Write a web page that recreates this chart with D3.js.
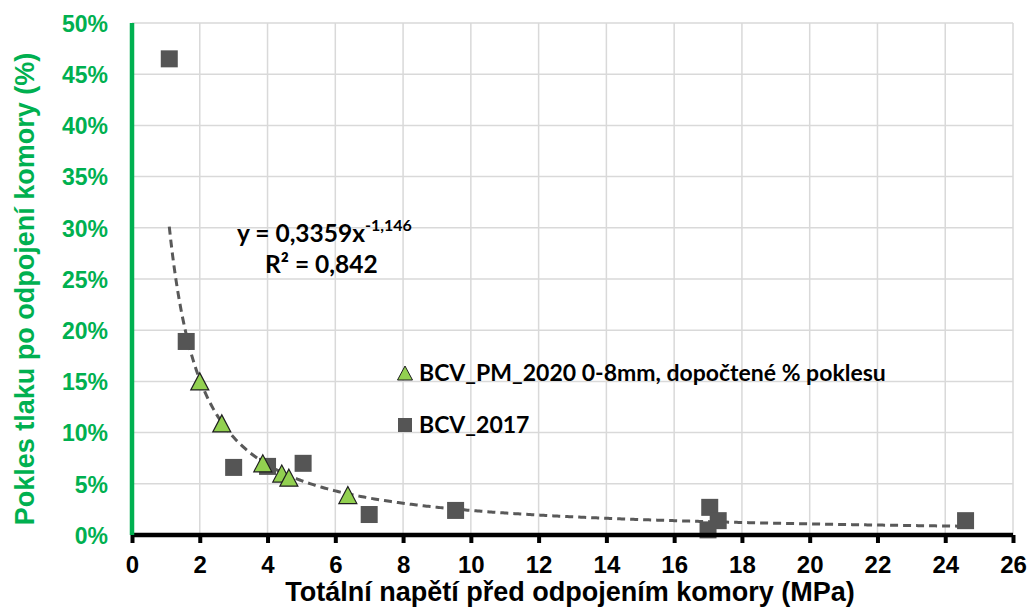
<!DOCTYPE html>
<html><head><meta charset="utf-8">
<script src="https://cdn.jsdelivr.net/npm/d3@7"></script>
<style>html,body{margin:0;padding:0;background:#fff;}svg{display:block;}</style>
</head><body>
<svg id="c" width="1032" height="615"></svg>
<script>
// ---- data ----
const xTicks = [0,2,4,6,8,10,12,14,16,18,20,22,24,26];
const yTicks = [0,5,10,15,20,25,30,35,40,45,50];
const bcv2017X = [1.1, 1.6, 3.0, 4.0, 5.05, 7.0, 9.55, 17.05, 17.3, 17.0, 24.6];
const bcv2017Y = [46.5, 18.9, 6.6, 6.7, 7.0, 2.0, 2.4, 2.7, 1.4, 0.5, 1.4];
const pm2020X = [2.0, 2.65, 3.86, 4.42, 4.63, 6.37];
const pm2020Y = [15.0, 10.9, 7.0, 6.0, 5.6, 3.9];
const trendA = 0.3359, trendB = -1.146, trendR2 = "0,842";
const trendRange = [1.1, 24.6];
const seriesNames = ["BCV_PM_2020 0-8mm, dopočtené % poklesu", "BCV_2017"];
const xTitle = "Totální napětí před odpojením komory (MPa)";
const yTitle = "Pokles tlaku po odpojení komory (%)";

const svg = d3.select("#c");
const L = 132, R = 1013, T = 23, B = 535;
const x = d3.scaleLinear().domain([0,26]).range([L,R]);
const y = d3.scaleLinear().domain([0,50]).range([B,T]);
const GREEN = "#00b050", GRID = "#d9d9d9", DARK = "#555555", TRI = "#92d050";
const ARIAL = "Liberation Sans, Arial, sans-serif";

// gridlines
const g = svg.append("g");
g.selectAll("line.v").data(xTicks.filter(d=>d>0)).join("line")
  .attr("x1",d=>x(d)).attr("x2",d=>x(d)).attr("y1",T).attr("y2",B)
  .attr("stroke",GRID).attr("stroke-width",1.5);
g.selectAll("line.h").data(yTicks.filter(d=>d>0)).join("line")
  .attr("y1",d=>y(d)).attr("y2",d=>y(d)).attr("x1",L).attr("x2",R)
  .attr("stroke",GRID).attr("stroke-width",1.5);

// trend line
const tx = d3.range(trendRange[0], trendRange[1]+0.001, 0.05);
const line = d3.line().x(d=>x(d)).y(d=>y(100*trendA*Math.pow(d,trendB)));
svg.append("path").datum(tx).attr("d",line).attr("fill","none")
  .attr("stroke","#595959").attr("stroke-width",3).attr("stroke-dasharray","8,5");

// squares
const sq = 17;
svg.append("g").selectAll("rect").data(bcv2017X.map((v,i)=>[v,bcv2017Y[i]])).join("rect")
  .attr("x",d=>x(d[0])-sq/2).attr("y",d=>y(d[1])-sq/2).attr("width",sq).attr("height",sq)
  .attr("fill",DARK);

// triangles
const triPath = (cx,cy,w,h)=>`M${cx},${cy-h/2}L${cx+w/2},${cy+h/2}L${cx-w/2},${cy+h/2}Z`;
svg.append("g").selectAll("path").data(pm2020X.map((v,i)=>[v,pm2020Y[i]])).join("path")
  .attr("d",d=>triPath(x(d[0]),y(d[1]),18,17))
  .attr("fill",TRI).attr("stroke","#1f1f1f").attr("stroke-width",1.2);

// axes
const xa = d3.axisBottom(x).tickValues(xTicks).tickSize(8).tickFormat(d3.format("d"));
const xg = svg.append("g").attr("transform",`translate(0,${B})`).call(xa);
xg.select(".domain").attr("stroke","#000").attr("stroke-width",4.5).attr("d",`M${L},0H${R}`);
xg.selectAll(".tick line").attr("stroke","#000").attr("stroke-width",4);
xg.selectAll(".tick text").attr("font-family",ARIAL)
  .attr("font-weight","bold").attr("font-size",24).attr("fill","#000").attr("y",38).attr("dy","0");

const ya = d3.axisLeft(y).tickValues(yTicks).tickSize(0).tickFormat(d=>d+"%");
const yg = svg.append("g").attr("transform",`translate(${L},0)`).call(ya);
yg.select(".domain").attr("stroke",GREEN).attr("stroke-width",4.5).attr("d",`M0,${T}V${B}`);
yg.selectAll(".tick text").attr("font-family",ARIAL)
  .attr("font-weight","bold").attr("font-size",23).attr("fill",GREEN).attr("x",-24).attr("dy","0.36em");

// titles
svg.append("text").attr("x",(283+857)/2).attr("y",601).attr("text-anchor","middle")
  .attr("font-family",ARIAL).attr("font-weight","bold")
  .attr("font-size",27).attr("fill","#000").text(xTitle);
svg.append("text").attr("transform","translate(34,289) rotate(-90)").attr("text-anchor","middle")
  .attr("font-family",ARIAL).attr("font-weight","bold")
  .attr("font-size",27).attr("fill",GREEN).text(yTitle);

// equation
const eqFont = "Lato, 'Open Sans', sans-serif";
const eq = svg.append("text").attr("x",237).attr("y",242).attr("font-family",eqFont)
  .attr("font-weight","bold").attr("font-size",24.5).attr("fill","#000");
eq.append("tspan").text("y = " + String(trendA).replace(".",",") + "x");
eq.append("tspan").attr("font-size",16).attr("dy",-11).text(String(trendB).replace(".",","));
svg.append("text").attr("x",265).attr("y",273).attr("font-family",eqFont)
  .attr("font-weight","bold").attr("font-size",24.5).attr("fill","#000").text("R² = " + trendR2);

// legend
svg.append("path").attr("d",triPath(405,373,15,14)).attr("fill",TRI).attr("stroke","#1f1f1f").attr("stroke-width",1);
svg.append("rect").attr("x",398).attr("y",418).attr("width",14).attr("height",14).attr("fill",DARK);
svg.append("text").attr("x",419).attr("y",381).attr("font-family",eqFont).attr("font-weight","bold")
  .attr("font-size",23).attr("fill","#000").text(seriesNames[0]);
svg.append("text").attr("x",419).attr("y",433).attr("font-family",eqFont).attr("font-weight","bold")
  .attr("font-size",23).attr("fill","#000").text(seriesNames[1]);
</script>
</body></html>
